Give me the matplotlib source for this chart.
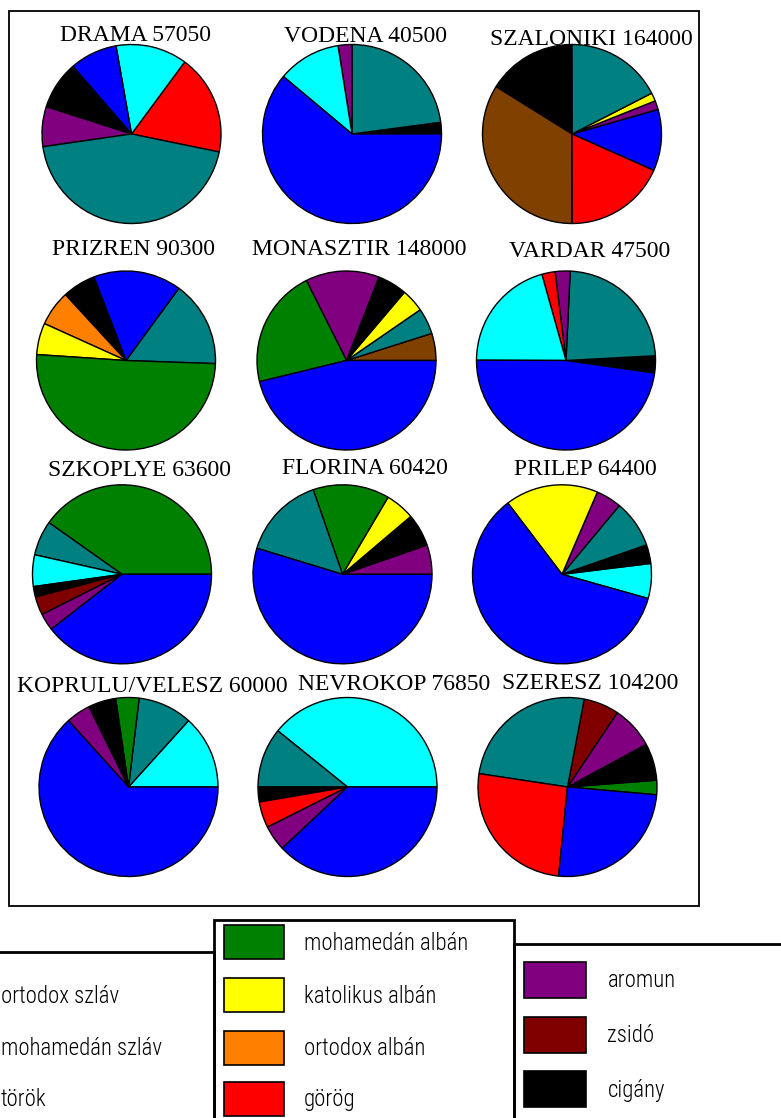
import matplotlib

matplotlib.use("Agg")
import matplotlib.pyplot as plt
from matplotlib import font_manager
from matplotlib.patches import Rectangle

W, H = 781, 1118

GROUP_COLORS = {
    "ortodox szláv": "#0000ff",
    "mohamedán szláv": "#00ffff",
    "török": "#008080",
    "mohamedán albán": "#008000",
    "katolikus albán": "#ffff00",
    "ortodox albán": "#ff8000",
    "görög": "#ff0000",
    "aromun": "#800080",
    "zsidó": "#800000",
    "cigány": "#000000",
    "egyéb": "#804000",
}

cities = ["DRAMA", "VODENA", "SZALONIKI",
          "PRIZREN", "MONASZTIR", "VARDAR",
          "SZKOPLYE", "FLORINA", "PRILEP",
          "KOPRULU/VELESZ", "NEVROKOP", "SZERESZ"]
population = [57050, 40500, 164000,
              90300, 148000, 47500,
              63600, 60420, 64400,
              60000, 76850, 104200]

# slices in drawing order (counter-clockwise), shares in percent
drama_groups = ["görög", "mohamedán szláv", "ortodox szláv", "cigány", "aromun", "török"]
drama_shares = [18.1, 12.9, 8.6, 8.7, 7.2, 44.5]
vodena_groups = ["cigány", "török", "aromun", "mohamedán szláv", "ortodox szláv"]
vodena_shares = [2.1, 22.9, 2.5, 11.4, 61.1]
szaloniki_groups = ["ortodox szláv", "aromun", "katolikus albán", "török", "cigány", "egyéb", "görög"]
szaloniki_shares = [11.1, 1.6, 1.5, 17.5, 16.1, 33.9, 18.3]
prizren_groups = ["török", "ortodox szláv", "cigány", "ortodox albán", "katolikus albán", "mohamedán albán"]
prizren_shares = [15.5, 15.9, 6.0, 6.4, 5.7, 50.5]
monasztir_groups = ["egyéb", "török", "katolikus albán", "cigány", "aromun", "mohamedán albán", "ortodox szláv"]
monasztir_shares = [4.9, 4.7, 4.2, 5.3, 13.3, 21.4, 46.2]
vardar_groups = ["cigány", "török", "aromun", "görög", "mohamedán szláv", "ortodox szláv"]
vardar_shares = [3.1, 23.4, 2.7, 2.4, 20.6, 47.8]
szkoplye_groups = ["mohamedán albán", "török", "mohamedán szláv", "cigány", "zsidó", "aromun", "ortodox szláv"]
szkoplye_shares = [40.2, 6.3, 5.7, 1.9, 3.3, 3.1, 39.5]
florina_groups = ["aromun", "cigány", "katolikus albán", "mohamedán albán", "török", "ortodox szláv"]
florina_shares = [5.3, 5.9, 5.3, 13.8, 15.0, 54.7]
prilep_groups = ["mohamedán szláv", "cigány", "török", "aromun", "katolikus albán", "ortodox szláv"]
prilep_shares = [6.3, 3.4, 8.6, 4.6, 16.8, 60.3]
koprulu_groups = ["mohamedán szláv", "török", "mohamedán albán", "cigány", "aromun", "ortodox szláv"]
koprulu_shares = [13.3, 9.8, 4.2, 5.0, 4.4, 63.3]
nevrokop_groups = ["mohamedán szláv", "török", "cigány", "görög", "aromun", "ortodox szláv"]
nevrokop_shares = [39.2, 10.8, 2.7, 4.7, 4.6, 38.0]
szeresz_groups = ["mohamedán albán", "cigány", "aromun", "zsidó", "török", "görög", "ortodox szláv"]
szeresz_shares = [2.6, 6.7, 7.7, 6.4, 25.6, 25.8, 25.2]

pies = [(drama_groups, drama_shares), (vodena_groups, vodena_shares),
        (szaloniki_groups, szaloniki_shares), (prizren_groups, prizren_shares),
        (monasztir_groups, monasztir_shares), (vardar_groups, vardar_shares),
        (szkoplye_groups, szkoplye_shares), (florina_groups, florina_shares),
        (prilep_groups, prilep_shares), (koprulu_groups, koprulu_shares),
        (nevrokop_groups, nevrokop_shares), (szeresz_groups, szeresz_shares)]

legend_cols = [
    ["ortodox szláv", "mohamedán szláv", "török"],
    ["mohamedán albán", "katolikus albán", "ortodox albán", "görög"],
    ["aromun", "zsidó", "cigány"],
]

# layout in pixels (y measured from the top)
start_angles = [-11.6, 0, -24, -2, 0, -8.1, 0, 0, -15.7, 0, 0, -5]
centers = [(131.5, 134), (352, 134), (572, 134),
           (126, 360.5), (346.5, 360.5), (566, 360.5),
           (122, 574.3), (342.5, 574.3), (562, 574.3),
           (128.5, 787), (347.5, 787), (567.5, 787)]
title_pos = [(136, 41), (365, 42), (591, 45),
             (133, 255), (359, 255), (590, 257),
             (140, 476.5), (365, 474), (585, 475),
             (152.5, 691.5), (394.5, 690.5), (590, 689)]
R = 89.5

# narrow sans for the legend if one is installed
installed = {f.name for f in font_manager.fontManager.ttflist}
narrow = [n for n in ["Roboto Condensed", "Liberation Sans Narrow", "Open Sans Condensed",
                      "DejaVu Sans"] if n in installed]
legend_font = dict(family=narrow + ["DejaVu Sans"], stretch="condensed", weight="light")

fig = plt.figure(figsize=(W / 100, H / 100), dpi=100)
ax = fig.add_axes([0, 0, 1, 1])

for (groups, shares), (cx, cy), start in zip(pies, centers, start_angles):
    ax.pie(shares, colors=[GROUP_COLORS[g] for g in groups], center=(cx, H - cy),
           radius=R, startangle=start, counterclock=True,
           wedgeprops=dict(edgecolor="black", linewidth=1.0))

for name, pop, (tx, ty) in zip(cities, population, title_pos):
    ax.text(tx, H - ty, f"{name} {pop}", ha="center", va="baseline",
            family="Liberation Serif", fontsize=17, color="black")

# outer frame round the pies
ax.add_patch(Rectangle((8.5, H - 906), 690.5, 895, fill=False, lw=1.3, ec="black"))

# legend: three boxes running off the bottom edge
box_x = [-300, 213.5, 513.5]
box_w = [513.5, 300, 400]
box_top = [952, 919.5, 944]
sw_x = [-80, 223.5, 523.5]
sw_size = [(60, 34), (60.5, 34), (62.5, 36)]
sw_top = [[978.3, 1030.7, 1081.7],
          [925, 978.3, 1030.7, 1081.7],
          [961.7, 1016.7, 1071]]
txt_x = [1, 303.5, 607.5]

legend_texts = []
for col, labels in enumerate(legend_cols):
    ax.add_patch(Rectangle((box_x[col], H - 1200), box_w[col], 1200 - box_top[col],
                           fill=False, lw=2.0, ec="black"))
    w, h = sw_size[col]
    for lab, top in zip(labels, sw_top[col]):
        ax.add_patch(Rectangle((sw_x[col], H - top - h), w, h,
                               fc=GROUP_COLORS[lab], ec="black", lw=1.2))
        legend_texts.append(ax.text(txt_x[col], H - top - h / 2 - 1, lab, ha="left",
                                    va="center", fontsize=17, color="black", **legend_font))

ax.set_xlim(0, W)
ax.set_ylim(0, H)
ax.axis("off")

# fit legend text so "mohamedán albán" is about 165 px wide, as in the original
fig.canvas.draw()
ref = next(t for t in legend_texts if t.get_text() == "mohamedán albán")
size = 17 * 165 / ref.get_window_extent().width
for t in legend_texts:
    t.set_fontsize(min(size, 18))

fig.savefig("out.png", dpi=100, facecolor="white")
